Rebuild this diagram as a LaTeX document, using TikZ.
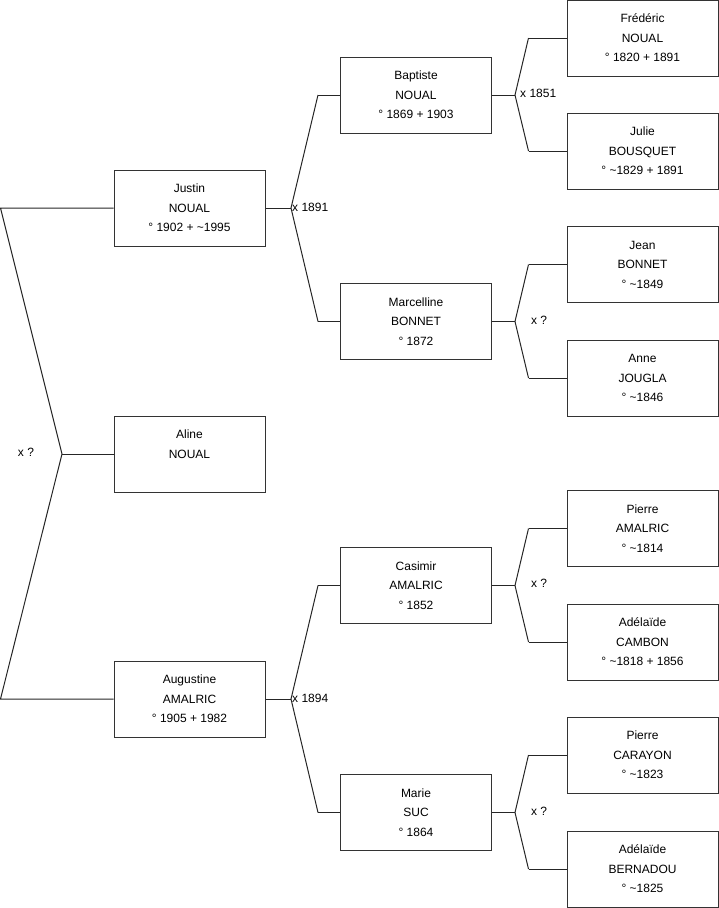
\documentclass[tikz,border=0pt]{standalone}
\usepackage{fontspec}
\setmainfont{Liberation Sans}
\begin{document}
\begin{tikzpicture}[x=1pt,y=-1pt,
  person/.style={draw=black!80, line width=1pt, minimum width=151pt, minimum height=76pt,
    inner sep=0pt, align=center, font=\fontsize{12}{19.5}\selectfont, fill=white},
  link/.style={draw=black!85, line width=1pt},
  lbl/.style={font=\fontsize{12}{14}\selectfont, inner sep=0pt}]
\useasboundingbox (0,0) rectangle (719,908);
% column 1
\node[person] (justin) at (189.5,208) {Justin\\NOUAL\\° 1902 + \textasciitilde 1995};
\node[person] (aline) at (189.5,454) {Aline\\NOUAL\\\mbox{}};
\node[person] (augustine) at (189.5,699) {Augustine\\AMALRIC\\° 1905 + 1982};
% column 2
\node[person] (baptiste) at (416,95) {Baptiste\\NOUAL\\° 1869 + 1903};
\node[person] (marcelline) at (416,321.5) {Marcelline\\BONNET\\° 1872};
\node[person] (casimir) at (416,585.5) {Casimir\\AMALRIC\\° 1852};
\node[person] (marie) at (416,812.5) {Marie\\SUC\\° 1864};
% column 3
\node[person] (frederic) at (642.5,38) {Frédéric\\NOUAL\\° 1820 + 1891};
\node[person] (julie) at (642.5,151) {Julie\\BOUSQUET\\° \textasciitilde 1829 + 1891};
\node[person] (jean) at (642.5,264.5) {Jean\\BONNET\\° \textasciitilde 1849};
\node[person] (anne) at (642.5,378) {Anne\\JOUGLA\\° \textasciitilde 1846};
\node[person] (pierre) at (642.5,528.5) {Pierre\\AMALRIC\\° \textasciitilde 1814};
\node[person] (adelaide) at (642.5,642) {Adélaïde\\CAMBON\\° \textasciitilde 1818 + 1856};
\node[person] (pierrec) at (642.5,755) {Pierre\\CARAYON\\° \textasciitilde 1823};
\node[person] (adelaideb) at (642.5,869) {Adélaïde\\BERNADOU\\° \textasciitilde 1825};

% left fork
\coordinate (L1) at (0.5,208);
\coordinate (L2) at (0.5,699);
\coordinate (F0) at (62,454);
\draw[link] (justin.west) -- (L1) -- (F0) -- (L2) -- (augustine.west);
\draw[link] (F0) -- (aline.west);
\node[lbl] (m0) at (26,452) {x ?};

\coordinate (FJ) at (291,208);
\draw[link] (justin.east) -- (FJ);
\draw[link] ([xshift=-22pt]baptiste.west) -- (FJ) -- ([xshift=-22pt]marcelline.west);
\draw[link] ([xshift=-22pt]baptiste.west) -- (baptiste.west);
\draw[link] ([xshift=-22pt]marcelline.west) -- (marcelline.west);
\node[lbl, anchor=west] (mJ) at ([xshift=1pt,yshift=1pt]FJ) {x 1891};

\coordinate (FA) at (291,699);
\draw[link] (augustine.east) -- (FA);
\draw[link] ([xshift=-22pt]casimir.west) -- (FA) -- ([xshift=-22pt]marie.west);
\draw[link] ([xshift=-22pt]casimir.west) -- (casimir.west);
\draw[link] ([xshift=-22pt]marie.west) -- (marie.west);
\node[lbl, anchor=west] (mA) at ([xshift=1pt,yshift=1pt]FA) {x 1894};

\coordinate (FB) at (515,95);
\draw[link] (baptiste.east) -- (FB);
\draw[link] ([xshift=-38pt]frederic.west) -- (FB) -- ([xshift=-38pt]julie.west);
\draw[link] ([xshift=-38pt]frederic.west) -- (frederic.west);
\draw[link] ([xshift=-38pt]julie.west) -- (julie.west);
\node[lbl, anchor=west] (mB) at ([xshift=5pt,yshift=2pt]FB) {x 1851};

\coordinate (FM) at (515,321.5);
\draw[link] (marcelline.east) -- (FM);
\draw[link] ([xshift=-38pt]jean.west) -- (FM) -- ([xshift=-38pt]anne.west);
\draw[link] ([xshift=-38pt]jean.west) -- (jean.west);
\draw[link] ([xshift=-38pt]anne.west) -- (anne.west);
\node[lbl] (mM) at ([xshift=24pt,yshift=1pt]FM) {x ?};

\coordinate (FC) at (515,585.5);
\draw[link] (casimir.east) -- (FC);
\draw[link] ([xshift=-38pt]pierre.west) -- (FC) -- ([xshift=-38pt]adelaide.west);
\draw[link] ([xshift=-38pt]pierre.west) -- (pierre.west);
\draw[link] ([xshift=-38pt]adelaide.west) -- (adelaide.west);
\node[lbl] (mC) at ([xshift=24pt,yshift=2pt]FC) {x ?};

\coordinate (FS) at (515,812.5);
\draw[link] (marie.east) -- (FS);
\draw[link] ([xshift=-38pt]pierrec.west) -- (FS) -- ([xshift=-38pt]adelaideb.west);
\draw[link] ([xshift=-38pt]pierrec.west) -- (pierrec.west);
\draw[link] ([xshift=-38pt]adelaideb.west) -- (adelaideb.west);
\node[lbl] (mS) at ([xshift=24pt,yshift=1pt]FS) {x ?};
\end{tikzpicture}
\end{document}
